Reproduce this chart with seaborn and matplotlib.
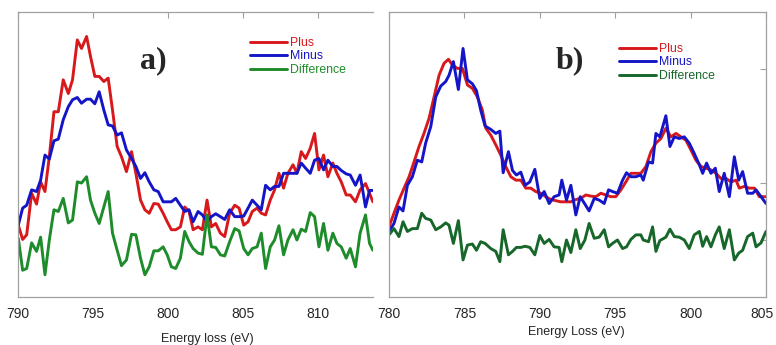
import numpy as np
import matplotlib
matplotlib.use("Agg")
import matplotlib.pyplot as plt
import matplotlib.transforms as mtransforms
import seaborn as sns

# --- Data (energy in eV, intensity in arbitrary units)

# panel a) : one energy grid for all three curves
energy_a = [790.02, 790.31, 790.58, 790.91, 791.24, 791.51, 791.80, 792.09, 792.40, 792.69,
            793.02, 793.36, 793.64, 793.96, 794.24, 794.58, 794.84, 795.13, 795.42, 795.73,
            796.02, 796.31, 796.62, 796.91, 797.24, 797.58, 797.87, 798.18, 798.47, 798.76,
            799.07, 799.36, 799.69, 799.96, 800.24, 800.53, 800.84, 801.13, 801.42, 801.69,
            802.02, 802.31, 802.62, 802.91, 803.20, 803.51, 803.80, 804.13, 804.47, 804.76,
            805.07, 805.36, 805.64, 805.96, 806.24, 806.53, 806.84, 807.13, 807.42, 807.73,
            808.02, 808.36, 808.62, 808.91, 809.20, 809.51, 809.80, 810.09, 810.40, 810.69,
            811.02, 811.29, 811.58, 811.91, 812.18, 812.53, 812.84, 813.20, 813.47, 813.69]

plus_a = [1.26, 1.01, 1.09, 1.82, 1.63, 2.02, 1.85, 2.46, 3.25, 3.25,
          3.81, 3.57, 3.81, 4.51, 4.36, 4.57, 4.22, 3.87, 3.87, 3.78,
          3.84, 3.28, 2.64, 2.46, 2.20, 2.55, 2.17, 1.70, 1.53, 1.47,
          1.64, 1.63, 1.47, 1.32, 1.18, 1.18, 1.23, 1.58, 1.50, 1.18,
          1.23, 1.18, 1.70, 1.23, 1.29, 1.12, 1.06, 1.47, 1.61, 1.56,
          1.26, 1.32, 1.50, 1.56, 1.47, 1.44, 1.70, 1.88, 2.17, 1.91,
          2.17, 2.32, 2.17, 2.55, 2.43, 2.61, 2.87, 2.23, 2.49, 2.11,
          2.35, 2.17, 2.02, 1.79, 1.79, 1.67, 1.88, 1.99, 1.82, 1.67]

minus_a = [1.26, 1.56, 1.61, 1.88, 1.85, 2.05, 2.49, 2.42, 2.74, 2.77,
           3.11, 3.34, 3.46, 3.50, 3.40, 3.47, 3.47, 3.39, 3.60, 3.28,
           3.02, 3.00, 2.84, 2.88, 2.58, 2.43, 2.29, 2.08, 2.18, 2.02,
           1.88, 1.85, 1.67, 1.67, 1.67, 1.73, 1.61, 1.50, 1.53, 1.32,
           1.50, 1.44, 1.32, 1.41, 1.46, 1.41, 1.36, 1.53, 1.41, 1.41,
           1.42, 1.56, 1.70, 1.61, 1.53, 1.96, 1.88, 1.94, 1.94, 2.17,
           2.17, 2.17, 2.17, 2.35, 2.26, 2.17, 2.40, 2.43, 2.23, 2.40,
           2.29, 2.29, 2.22, 2.16, 2.14, 1.96, 2.14, 1.58, 1.87, 1.87]

diff_a = [1.03, 0.47, 0.50, 0.95, 0.80, 1.05, 0.39, 1.00, 1.53, 1.50,
          1.73, 1.30, 1.35, 2.02, 2.00, 2.11, 1.70, 1.47, 1.29, 1.58,
          1.85, 1.12, 0.82, 0.55, 0.65, 1.10, 1.09, 0.68, 0.39, 0.53,
          0.81, 0.81, 0.88, 0.74, 0.53, 0.50, 0.68, 1.15, 0.97, 0.85,
          0.77, 0.75, 1.44, 0.88, 0.87, 0.74, 0.72, 0.97, 1.20, 1.16,
          0.85, 0.74, 0.85, 0.88, 1.12, 0.50, 0.88, 1.00, 1.25, 0.74,
          1.00, 1.18, 1.00, 1.19, 1.15, 1.48, 1.41, 0.88, 1.29, 0.82,
          1.12, 0.94, 0.88, 0.68, 0.85, 0.53, 1.12, 1.44, 0.94, 0.82]

# panel b) : the smooth "Plus" curve was read on its own grid
energy_b_plus = [780.00, 780.33, 780.66, 781.00, 781.33, 781.66, 781.99, 782.32, 782.65, 782.99,
                 783.32, 783.65, 783.94, 784.20, 784.54, 784.87, 785.20, 785.53, 785.86, 786.19,
                 786.42, 786.75, 787.08, 787.41, 787.74, 788.08, 788.41, 788.74, 789.07, 789.40,
                 789.73, 790.07, 790.40, 790.73, 791.06, 791.39, 791.73, 792.06, 792.39, 792.72,
                 793.05, 793.38, 793.72, 794.05, 794.38, 794.71, 795.04, 795.38, 795.71, 796.04,
                 796.37, 796.70, 797.04, 797.37, 797.70, 798.03, 798.36, 798.69, 799.03, 799.36,
                 799.69, 800.02, 800.35, 800.69, 801.02, 801.35, 801.68, 802.01, 802.35, 802.68,
                 803.01, 803.23, 803.56, 803.89, 804.23, 804.56, 805.00]

plus_b = [1.23, 1.47, 1.70, 1.91, 2.11, 2.37, 2.64, 2.87, 3.13, 3.51,
          3.89, 4.10, 4.17, 4.07, 4.01, 4.01, 3.72, 3.66, 3.51, 3.28,
          2.96, 2.84, 2.67, 2.49, 2.29, 2.11, 2.05, 2.05, 1.91, 1.91,
          1.85, 1.82, 1.76, 1.71, 1.69, 1.67, 1.67, 1.67, 1.71, 1.73,
          1.79, 1.77, 1.76, 1.82, 1.79, 1.76, 1.76, 1.88, 2.02, 2.17,
          2.17, 2.17, 2.29, 2.55, 2.70, 2.78, 2.96, 2.81, 2.87, 2.81,
          2.75, 2.58, 2.40, 2.29, 2.26, 2.23, 2.17, 2.08, 2.08, 2.02,
          2.05, 1.91, 1.94, 1.91, 1.91, 1.76, 1.76]

energy_b = [780.00, 780.33, 780.66, 780.93, 781.22, 781.55, 781.88, 782.17, 782.43, 782.77,
            783.10, 783.43, 783.76, 783.98, 784.27, 784.60, 784.91, 785.20, 785.53, 785.80,
            786.08, 786.37, 786.75, 787.08, 787.35, 787.57, 787.92, 788.19, 788.45, 788.74,
            789.03, 789.34, 789.67, 790.00, 790.29, 790.62, 790.95, 791.28, 791.46, 791.77,
            792.06, 792.39, 792.68, 792.99, 793.27, 793.61, 793.94, 794.27, 794.56, 794.82,
            795.15, 795.49, 795.75, 796.04, 796.37, 796.70, 796.86, 797.21, 797.48, 797.70,
            797.96, 798.36, 798.63, 798.92, 799.25, 799.58, 799.91, 800.24, 800.58, 800.80,
            801.06, 801.35, 801.64, 801.90, 802.23, 802.57, 802.90, 803.19, 803.45, 803.78,
            804.12, 804.34, 804.67, 805.00]

minus_b = [1.15, 1.29, 1.58, 1.51, 1.96, 2.11, 2.40, 2.37, 2.70, 2.99,
           3.51, 3.70, 3.78, 3.89, 4.13, 3.64, 4.36, 3.81, 3.74, 3.62,
           3.28, 3.00, 2.94, 2.87, 2.91, 2.18, 2.55, 2.22, 2.14, 2.19,
           1.96, 2.02, 2.24, 1.73, 1.85, 1.64, 1.76, 1.79, 2.05, 1.70,
           1.96, 1.44, 1.76, 1.63, 1.51, 1.73, 1.70, 1.64, 1.88, 1.85,
           1.82, 2.05, 2.18, 2.11, 2.11, 2.14, 2.05, 2.37, 2.35, 2.87,
           2.81, 3.18, 2.64, 2.81, 2.78, 2.81, 2.70, 2.52, 2.32, 2.17,
           2.35, 2.17, 2.26, 1.85, 2.17, 1.76, 2.46, 2.05, 2.20, 1.82,
           1.82, 1.88, 1.76, 1.64]

diff_b = [1.09, 1.20, 1.06, 1.32, 1.15, 1.20, 1.20, 1.47, 1.38, 1.35,
          1.18, 1.23, 1.30, 1.26, 0.94, 1.34, 0.65, 0.91, 0.93, 0.82,
          0.97, 0.94, 0.85, 0.80, 0.62, 1.18, 0.74, 0.80, 0.87, 0.87,
          0.89, 0.87, 0.74, 1.08, 0.94, 1.01, 0.88, 0.87, 0.62, 1.00,
          0.78, 1.18, 0.85, 1.00, 1.29, 1.03, 1.05, 1.18, 0.88, 0.94,
          1.00, 0.85, 0.88, 1.01, 1.09, 1.09, 1.00, 0.97, 1.23, 0.80,
          0.99, 1.05, 1.19, 1.06, 1.05, 1.00, 0.85, 1.09, 1.15, 0.89,
          1.06, 0.88, 1.09, 1.23, 0.85, 1.18, 0.65, 0.77, 0.82, 1.06,
          1.12, 0.88, 0.95, 1.15]

ticks_a = [790, 795, 800, 805, 810]
ticks_b = [780, 785, 790, 795, 800, 805]
yticks_a = [1, 2, 3, 4]
yticks_b = [1, 2, 4]

# --- Style
sns.set_style("white")
plt.rcParams["font.family"] = ["Liberation Sans", "DejaVu Sans"]

RED = "#d7191c"
BLUE = "#1515c8"
GREEN_A = "#1e8c2a"
GREEN_B = "#17662a"
SPINE = "#a0a0a0"

fig = plt.figure(figsize=(7.76, 3.45), dpi=100)
ax_a = fig.add_axes([18 / 776, 48 / 345, 355 / 776, 285 / 345])
ax_b = fig.add_axes([389 / 776, 48 / 345, 377 / 776, 285 / 345])

lw = 2.1
sns.lineplot(x=energy_a, y=plus_a, ax=ax_a, color=RED, lw=lw, label="Plus")
sns.lineplot(x=energy_a, y=minus_a, ax=ax_a, color=BLUE, lw=lw, label="Minus")
sns.lineplot(x=energy_a, y=diff_a, ax=ax_a, color=GREEN_A, lw=lw, label="Difference")

sns.lineplot(x=energy_b_plus, y=plus_b, ax=ax_b, color=RED, lw=lw, label="Plus")
sns.lineplot(x=energy_b, y=minus_b, ax=ax_b, color=BLUE, lw=lw, label="Minus")
sns.lineplot(x=energy_b, y=diff_b, ax=ax_b, color=GREEN_B, lw=lw, label="Difference")

ax_a.set_xlim(790, 813.7)
ax_b.set_xlim(780, 805)

for ax, ticks, yt in [(ax_a, ticks_a, yticks_a), (ax_b, ticks_b, yticks_b)]:
    ax.set_ylim(0, 5)
    ax.set_xticks(ticks)
    ax.set_yticks(yt)
    ax.set_yticklabels([])
    ax.tick_params(axis="both", direction="in", length=4, width=0.8, color=SPINE,
                   top=True, right=True, labelsize=10, pad=7)
    for s in ax.spines.values():
        s.set_color(SPINE)
        s.set_linewidth(0.9)

ax_a.spines["right"].set_visible(False)
ax_a.tick_params(right=False)

# last label of panel b sits right at the figure edge: nudge it in a little
fig.canvas.draw()
last = ax_b.get_xticklabels()[-1]
last.set_transform(last.get_transform() + mtransforms.ScaledTranslation(-4 / 100, 0, fig.dpi_scale_trans))

ax_a.set_xlabel("Energy loss (eV)", fontsize=9)
ax_b.set_xlabel("Energy Loss (eV)", fontsize=9)
ax_a.xaxis.set_label_coords(0.532, -0.128)
ax_b.xaxis.set_label_coords(0.496, -0.10)

ax_a.text(0.38, 0.83, "a)", transform=ax_a.transAxes, ha="center", va="center",
          fontsize=23, fontweight="bold", family="Liberation Serif")
ax_b.text(0.48, 0.83, "b)", transform=ax_b.transAxes, ha="center", va="center",
          fontsize=23, fontweight="bold", family="Liberation Serif")

leg_kw = dict(loc="upper left", frameon=False, fontsize=8.8, labelcolor="linecolor",
              handlelength=3.0, handletextpad=0.3, labelspacing=0.12,
              borderpad=0, borderaxespad=0)
ax_a.legend(bbox_to_anchor=((250 - 18) / 355, (297 - 37) / 285), **leg_kw)
ax_b.legend(bbox_to_anchor=((619 - 389) / 377, (297 - 43) / 285), **leg_kw)

fig.savefig("out.png", dpi=100)
